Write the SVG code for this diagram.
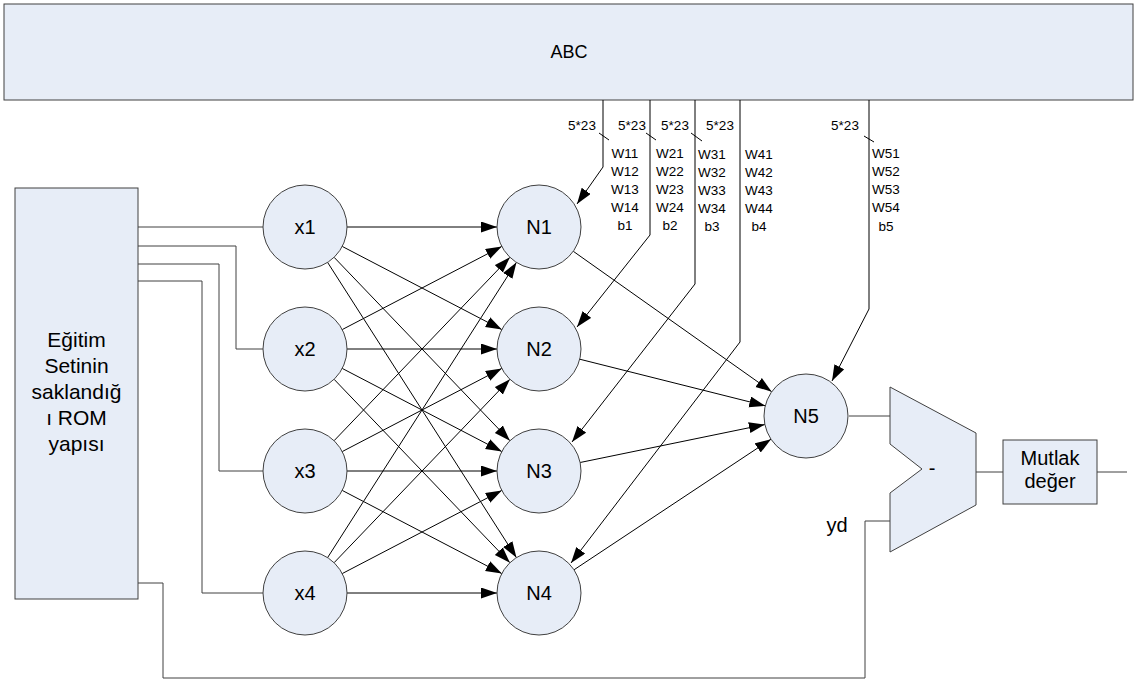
<svg xmlns="http://www.w3.org/2000/svg" width="1138" height="686" viewBox="0 0 1138 686">
<style>
.box{fill:#E7EDF7;stroke:#404040;stroke-width:1}
.node{fill:#E7EDF7;stroke:#404040;stroke-width:1}
.t{font-family:"Liberation Sans",Arial,sans-serif;fill:#000;text-anchor:middle}
.lbl{font-size:20px}
.sm{font-size:13.5px}
.w{fill:none;stroke:#000;stroke-width:1}
.g{fill:none;stroke:#404040;stroke-width:1}
.a{fill:none;stroke:#000;stroke-width:1;marker-end:url(#ah)}
</style>
<defs>
<marker id="ah" markerUnits="userSpaceOnUse" markerWidth="17" markerHeight="12" refX="16" refY="5.5" orient="auto">
<path d="M0,0 L16,5.5 L0,11 z" fill="#000"/>
</marker>
</defs>
<g id="abc"><rect class="box" x="4" y="4" width="1129" height="96"/><text class="t" x="569" y="58" font-size="18">ABC</text></g>
<g id="rom"><rect class="box" x="15" y="188" width="123" height="411"/>
<text class="t" font-size="21"><tspan x="76.5" y="347">Eğitim</tspan><tspan x="76.5" y="373">Setinin</tspan><tspan x="76.5" y="399">saklandığ</tspan><tspan x="76.5" y="425">ı ROM</tspan><tspan x="76.5" y="451">yapısı</tspan></text></g>
<g id="connectors">
<path class="g" d="M138,227 H263"/>
<path class="g" d="M138,246 H236 V349 H263"/>
<path class="g" d="M138,264 H219 V471 H263"/>
<path class="g" d="M138,281 H202 V593 H263"/>
<path class="g" d="M138,583 H163 V678 H865 V521 H890"/>
<path class="a" d="M347,227 L497,227"/>
<path class="a" d="M342.2,246.4 L501.8,329.6"/>
<path class="a" d="M334.1,257.3 L509.9,440.7"/>
<path class="a" d="M327.6,262.4 L516.4,557.6"/>
<path class="a" d="M342.2,329.6 L501.8,246.4"/>
<path class="a" d="M347,349 L497,349"/>
<path class="a" d="M342.2,368.4 L501.8,451.6"/>
<path class="a" d="M334.1,379.3 L509.9,562.7"/>
<path class="a" d="M334.1,440.7 L509.9,257.3"/>
<path class="a" d="M342.2,451.6 L501.8,368.4"/>
<path class="a" d="M347,471 L497,471"/>
<path class="a" d="M342.2,490.4 L501.8,573.6"/>
<path class="a" d="M327.6,557.6 L516.4,262.4"/>
<path class="a" d="M334.1,562.7 L509.9,379.3"/>
<path class="a" d="M342.2,573.6 L501.8,490.4"/>
<path class="a" d="M347,593 L497,593"/>
<path class="a" d="M573.3,251.3 L771.7,391.7"/>
<path class="a" d="M579.7,359.2 L765.3,405.8"/>
<path class="a" d="M580.1,462.5 L764.9,424.5"/>
<path class="a" d="M574,569.8 L771,439.2"/>
<path class="a" d="M603,100 V167 L577,204"/>
<path class="a" d="M650,100 V235 L577,327"/>
<path class="a" d="M695,100 V284 L572,442"/>
<path class="a" d="M740,100 V342 L571,563"/>
<path class="a" d="M869,100 V309 L832,381" stroke-width="2"/>
<path class="w" d="M599,133 L609,140 M646,133 L656,140 M691,133 L702,141 M864,136 L874,142"/>
<path class="g" d="M849,416 H890"/>
<path class="g" d="M976,472 H1003"/>
<path class="g" d="M1097,472 H1127"/>
</g>
<g id="labels">
<text class="t sm" x="582" y="130">5*23</text>
<text class="t sm" x="632" y="130">5*23</text>
<text class="t sm" x="675" y="130">5*23</text>
<text class="t sm" x="720" y="130">5*23</text>
<text class="t sm" x="845" y="130">5*23</text>
<text class="t sm"><tspan x="625" y="158">W11</tspan><tspan x="625" y="176">W12</tspan><tspan x="625" y="194">W13</tspan><tspan x="625" y="212">W14</tspan><tspan x="625" y="230">b1</tspan></text>
<text class="t sm"><tspan x="670" y="158">W21</tspan><tspan x="670" y="176">W22</tspan><tspan x="670" y="194">W23</tspan><tspan x="670" y="212">W24</tspan><tspan x="670" y="230">b2</tspan></text>
<text class="t sm"><tspan x="712" y="159">W31</tspan><tspan x="712" y="177">W32</tspan><tspan x="712" y="195">W33</tspan><tspan x="712" y="213">W34</tspan><tspan x="712" y="231">b3</tspan></text>
<text class="t sm"><tspan x="759" y="159">W41</tspan><tspan x="759" y="177">W42</tspan><tspan x="759" y="195">W43</tspan><tspan x="759" y="213">W44</tspan><tspan x="759" y="231">b4</tspan></text>
<text class="t sm"><tspan x="886" y="158">W51</tspan><tspan x="886" y="176">W52</tspan><tspan x="886" y="194">W53</tspan><tspan x="886" y="212">W54</tspan><tspan x="886" y="231">b5</tspan></text>
<text class="t lbl" x="837" y="532">yd</text>
</g>
<g id="x1"><circle class="node" cx="305" cy="227" r="42"/><text class="t lbl" x="305" y="234">x1</text></g>
<g id="x2"><circle class="node" cx="305" cy="349" r="42"/><text class="t lbl" x="305" y="356">x2</text></g>
<g id="x3"><circle class="node" cx="305" cy="471" r="42"/><text class="t lbl" x="305" y="478">x3</text></g>
<g id="x4"><circle class="node" cx="305" cy="593" r="42"/><text class="t lbl" x="305" y="600">x4</text></g>
<g id="N1"><circle class="node" cx="539" cy="227" r="42"/><text class="t lbl" x="539" y="234">N1</text></g>
<g id="N2"><circle class="node" cx="539" cy="349" r="42"/><text class="t lbl" x="539" y="356">N2</text></g>
<g id="N3"><circle class="node" cx="539" cy="471" r="42"/><text class="t lbl" x="539" y="478">N3</text></g>
<g id="N4"><circle class="node" cx="539" cy="593" r="42"/><text class="t lbl" x="539" y="600">N4</text></g>
<g id="N5"><circle class="node" cx="806" cy="416" r="42"/><text class="t lbl" x="806" y="423">N5</text></g>
<g id="sub"><path class="box" d="M890,387 L976,433 L976,505 L890,552 L890,493 L922,469 L890,444 Z"/><text class="t lbl" x="932" y="475">-</text></g>
<g id="mutlak"><rect class="box" x="1003" y="440" width="94" height="64"/><text class="t lbl"><tspan x="1050" y="465">Mutlak</tspan><tspan x="1050" y="488">değer</tspan></text></g>
</svg>
